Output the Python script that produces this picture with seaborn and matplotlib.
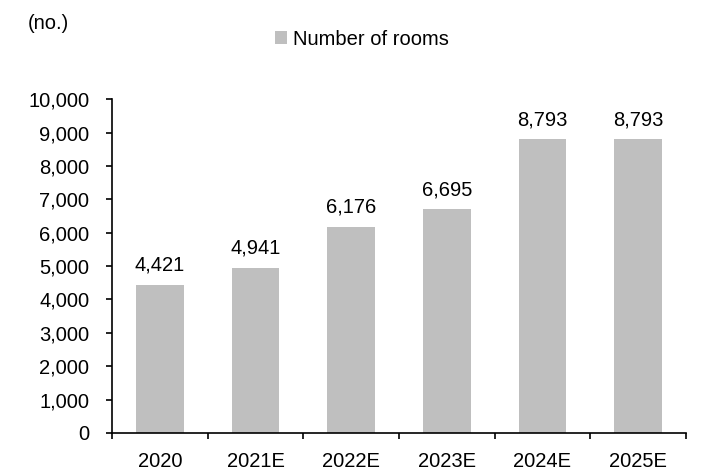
import matplotlib
matplotlib.use("Agg")
import matplotlib.pyplot as plt
import seaborn as sns
import pandas as pd
import numpy as np
from matplotlib.ticker import FuncFormatter, FixedLocator
from matplotlib.patches import Patch

years = ["2020", "2021E", "2022E", "2023E", "2024E", "2025E"]
rooms = [4421, 4941, 6176, 6695, 8793, 8793]
yticks = list(range(0, 10001, 1000))

sns.set_theme(style="white")
plt.rcParams['font.family'] = ['Liberation Sans', 'DejaVu Sans']

FS = 14.5
df = pd.DataFrame({"year": years, "rooms": rooms})

fig = plt.figure(figsize=(7.05, 4.7), dpi=100)
ax = fig.add_axes([0.159, 0.079, 0.814, 0.71])
sns.barplot(data=df, x="year", y="rooms", color="#BFBFBF", width=0.5, ax=ax,
            saturation=1, linewidth=0)

ax.set_xlim(-0.5, len(years) - 0.5)
ax.set_ylim(0, 10000)
ax.set_yticks(yticks)
ax.yaxis.set_major_formatter(FuncFormatter(lambda v, p: f"{int(v):,}"))
ax.set_xlabel("")
ax.set_ylabel("")

for s in ["top", "right"]:
    ax.spines[s].set_visible(False)
for s in ["left", "bottom"]:
    ax.spines[s].set_color("black")
    ax.spines[s].set_linewidth(1.2)

ax.tick_params(axis="y", which="major", direction="out", length=4.3, width=1.2, color="black",
               labelsize=FS, pad=12, left=True, labelcolor="black")
ax.tick_params(axis="x", which="major", length=0, labelsize=FS, pad=14, labelcolor="black")
ax.xaxis.set_minor_locator(FixedLocator(np.arange(-0.5, len(years), 1.0)))
ax.tick_params(axis="x", which="minor", direction="out", length=4.3, width=1.2, color="black", bottom=True)

for c in ax.containers:
    ax.bar_label(c, labels=[f"{v:,}" for v in rooms], padding=7.5, fontsize=FS, color="black")

fig.text(0.04, 0.949, "(no.)", fontsize=FS, ha="left", va="center", color="black")
leg = fig.legend(handles=[Patch(facecolor="#BFBFBF", edgecolor="none", label="Number of rooms")],
                 loc="center", bbox_to_anchor=(0.513, 0.917), frameon=False, fontsize=FS,
                 handlelength=0.6, handleheight=0.6, handletextpad=0.3, labelcolor="black")

fig.savefig("out.png", dpi=100)
